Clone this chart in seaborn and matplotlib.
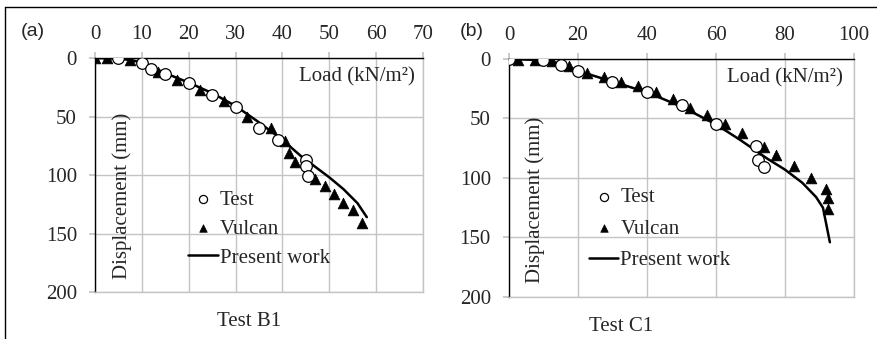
import matplotlib
matplotlib.use("Agg")
import matplotlib.pyplot as plt
from matplotlib.lines import Line2D
import seaborn as sns

# Test B1 (panel a)
b1_test_load = [5, 10, 12, 15, 20, 25, 30, 35, 39, 45, 45, 45.5]
b1_test_disp = [0, 4, 9, 14, 21, 32, 42, 60, 70, 87, 92, 101]
b1_vulcan_load = [0, 2.5, 7.5, 13.5, 17.5, 22.5, 27.5, 32.5, 37.5, 40.5, 41.5, 42.7,
                  47, 49, 51, 53, 55, 57]
b1_vulcan_disp = [0, 0, 2, 12, 19, 27, 37, 50, 60, 71, 81, 89,
                  103, 109, 116, 124, 130, 141]
b1_model_load = [0, 5, 8, 10, 15, 20, 25, 30, 35, 40, 44, 47, 50, 53, 56, 58]
b1_model_disp = [0, 0.5, 2, 4, 13, 21, 30, 41, 55, 70, 84, 93, 102, 112, 124, 136]

# Test C1 (panel b)
c1_test_load = [0, 10, 15, 20, 30, 40, 50, 60, 71.5, 72.2, 74]
c1_test_disp = [0, 1, 5, 10, 19, 28, 39, 55, 73, 85, 91]
c1_vulcan_load = [2.5, 7.5, 12.5, 17.5, 22.5, 27.5, 32.5, 37.5, 42.5, 47.5, 52.5,
                  57.5, 62.5, 67.5, 74, 77.5, 82.5, 87.5, 92, 92.5, 92.5]
c1_vulcan_disp = [1, 1, 1.5, 6, 12, 15, 19, 23, 28, 34, 41,
                  47, 55, 62, 74, 81, 90, 100, 109, 117, 126]
c1_model_load = [0, 5, 10, 15, 20, 30, 40, 50, 60, 67, 75, 80, 85, 89, 91, 93]
c1_model_disp = [0, 0.5, 1, 4, 10, 19, 28, 40, 55, 68, 84, 93, 104, 116, 125, 154]

sns.set_theme(style="white")
plt.rcParams['font.family'] = ['Liberation Serif', 'DejaVu Serif']
plt.rcParams['font.size'] = 15

fig = plt.figure(figsize=(8.78, 3.39), dpi=100)
ax_a = fig.add_axes([0.1082, 0.1386, 0.3736, 0.6903])
ax_b = fig.add_axes([0.5797, 0.1239, 0.3930, 0.7021])

grey = '#c4c4c4'


def draw_panel(ax, test_x, test_y, vul_x, vul_y, mod_x, mod_y, xmax, xstep,
               name, name_x, leg_x, leg_y, leg_sp, lab_x, load_x):
    sns.lineplot(x=mod_x, y=mod_y, sort=False, estimator=None, ax=ax,
                 color='black', lw=1.8, zorder=3, label='Present work')
    sns.scatterplot(x=vul_x, y=vul_y, ax=ax, marker='^', s=60, color='black',
                    edgecolor='black', linewidth=0.5, zorder=4, label='Vulcan')
    sns.scatterplot(x=test_x, y=test_y, ax=ax, marker='o', s=70, color='white',
                    edgecolor='black', linewidth=0.9, zorder=5, label='Test')
    ax.set_xlim(0, xmax)
    ax.set_ylim(200, 0)
    ax.set_xticks(range(0, xmax + 1, xstep))
    ax.set_yticks(range(0, 201, 50))
    ax.xaxis.tick_top()
    ax.grid(True, color=grey, lw=1)
    ax.set_axisbelow(True)
    for side in ['bottom', 'right']:
        ax.spines[side].set_color(grey)
        ax.spines[side].set_linewidth(1)
    for side in ['top', 'left']:
        ax.spines[side].set_color('black')
        ax.spines[side].set_linewidth(1)
    ax.tick_params(axis='x', which='both', top=True, bottom=False, length=4,
                   color=grey, pad=6, labelsize=15)
    ax.tick_params(axis='y', which='both', left=True, length=4, color=grey,
                   pad=9, labelsize=15)
    ax.set_xlabel('')
    ax.set_ylabel('Displacement (mm)', fontsize=15)
    ax.yaxis.set_label_coords(lab_x, 0.41)
    ax.text(load_x, 0.92, 'Load (kN/m²)', transform=ax.transAxes,
            ha='right', va='center', fontsize=15)
    ax.text(name_x, -0.125, name, transform=ax.transAxes,
            ha='center', va='center', fontsize=15)
    handles, labels = ax.get_legend_handles_labels()
    order = [labels.index(k) for k in ['Test', 'Vulcan', 'Present work']]
    ax.legend([handles[i] for i in order], [labels[i] for i in order],
              loc='upper left', bbox_to_anchor=(leg_x, leg_y), frameon=False,
              fontsize=15, handlelength=1.4, handletextpad=0.1,
              labelspacing=leg_sp, borderpad=0, borderaxespad=0, markerscale=0.7)


draw_panel(ax_a, b1_test_load, b1_test_disp, b1_vulcan_load, b1_vulcan_disp,
           b1_model_load, b1_model_disp, 70, 10, 'Test B1', 0.47,
           0.285, 0.435, 0.45, 0.112, 0.976)
draw_panel(ax_b, c1_test_load, c1_test_disp, c1_vulcan_load, c1_vulcan_disp,
           c1_model_load, c1_model_disp, 100, 20, 'Test C1', 0.325,
           0.232, 0.46, 0.57, 0.105, 0.968)

fig.text(33 / 878, 1 - 32 / 339, '(a)', ha='center', va='center',
         fontsize=14, family=['Liberation Sans', 'DejaVu Sans'])
fig.text(472 / 878, 1 - 32 / 339, '(b)', ha='center', va='center',
         fontsize=14, family=['Liberation Sans', 'DejaVu Sans'])

# outer border (top and left edges)
fig.add_artist(Line2D([5 / 878, 1], [1 - 7 / 339, 1 - 7 / 339], color='black',
                      lw=1, transform=fig.transFigure))
fig.add_artist(Line2D([5 / 878, 5 / 878], [0, 1 - 7 / 339], color='black',
                      lw=1, transform=fig.transFigure))

fig.savefig('out.png', dpi=100)
